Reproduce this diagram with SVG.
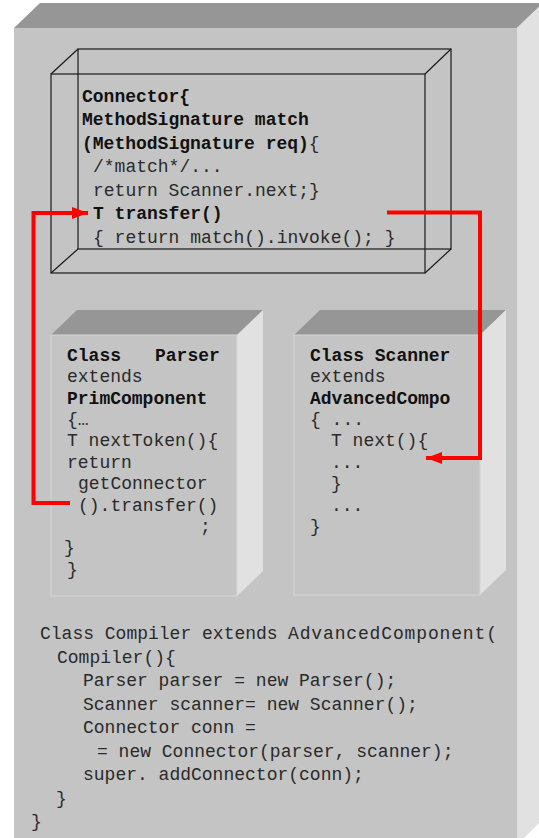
<svg xmlns="http://www.w3.org/2000/svg" width="539" height="838" viewBox="0 0 539 838">
  <defs>
    <style>
      .front { fill: #c4c4c4; }
      .top { fill: #969696; }
      .side { fill: #e1e1e1; }
      .edge { stroke: #d6d6d6; stroke-width: 1; }
      .wire { fill: none; stroke: #1a1a1a; stroke-width: 1.2; }
      .code { font-family: "Liberation Mono", "Courier New", monospace; font-size: 18px; fill: #2a2a2a; }
      .b { font-weight: bold; fill: #111; }
      .link { fill: none; stroke: #ff0000; stroke-width: 4; }
    </style>
    <marker id="head" markerWidth="4" markerHeight="3" refX="4" refY="1.5" orient="auto" markerUnits="strokeWidth">
      <polygon points="0,0 4,1.5 0,3" fill="#ff0000"/>
    </marker>
  </defs>

  <rect width="539" height="838" fill="#ffffff"/>

  <!-- outer component: Compiler -->
  <g id="compiler">
    <polygon class="top" points="14,28 40,3 543,3 517,28"/>
    <polygon class="side" points="517,28 543,3 543,819 517,845"/>
    <rect class="front" x="14" y="28" width="503" height="820"/>
    <g class="code">
      <text x="40" y="639">Class Compiler extends <tspan x="288" textLength="209" lengthAdjust="spacing">AdvancedComponent(</tspan></text>
      <text x="57" y="663">Compiler(){</text>
      <text x="83" y="686">Parser parser = new Parser();</text>
      <text x="83" y="710">Scanner scanner= new Scanner();</text>
      <text x="83" y="733">Connector conn =</text>
      <text x="97" y="757">= new Connector(parser, scanner);</text>
      <text x="83" y="780">super. addConnector(conn);</text>
      <text x="56" y="804">}</text>
      <text x="31" y="827">}</text>
    </g>
  </g>

  <!-- connector: wireframe box -->
  <g id="connector">
    <rect class="wire" x="78" y="49" width="373" height="200"/>
    <rect class="wire" x="51" y="74" width="374" height="199"/>
    <line class="wire" x1="51" y1="74" x2="78" y2="49"/>
    <line class="wire" x1="425" y1="74" x2="451" y2="49"/>
    <line class="wire" x1="51" y1="273" x2="78" y2="249"/>
    <line class="wire" x1="425" y1="273" x2="451" y2="249"/>
    <g class="code">
      <text x="82" y="102" class="b">Connector{</text>
      <text x="82" y="125" class="b">MethodSignature match</text>
      <text x="82" y="149"><tspan class="b">(MethodSignature req)</tspan>{</text>
      <text x="93" y="172">/*match*/...</text>
      <text x="93" y="196">return Scanner.next;}</text>
      <text x="93" y="219" class="b">T transfer()</text>
      <text x="93" y="243">{ return match().invoke(); }</text>
    </g>
  </g>

  <!-- Parser component -->
  <g id="parser">
    <polygon class="top" points="51,335 77,310 263,310 237,335"/>
    <polygon class="side" points="237,335 263,310 263,571 237,596"/>
    <rect class="front edge" x="51" y="335" width="186" height="261"/>
    <g class="code">
      <text x="67" y="361" class="b">Class<tspan x="155">Parser</tspan></text>
      <text x="67" y="382">extends</text>
      <text x="67" y="404" class="b">PrimComponent</text>
      <text x="67" y="425">{…</text>
      <text x="67" y="446">T nextToken(){</text>
      <text x="67" y="468">return</text>
      <text x="78" y="489">getConnector</text>
      <text x="78" y="511">().transfer()</text>
      <text x="200" y="532">;</text>
      <text x="64" y="553">}</text>
      <text x="67" y="575">}</text>
    </g>
  </g>

  <!-- Scanner component -->
  <g id="scanner">
    <polygon class="top" points="294,335 320,310 506,310 480,335"/>
    <polygon class="side" points="480,335 506,310 506,570 480,595"/>
    <rect class="front edge" x="294" y="335" width="186" height="260"/>
    <g class="code">
      <text x="310" y="361" class="b">Class Scanner</text>
      <text x="310" y="382">extends</text>
      <text x="310" y="404" class="b">AdvancedCompo</text>
      <text x="310" y="425">{ ...</text>
      <text x="331" y="446">T next(){</text>
      <text x="331" y="468">...</text>
      <text x="331" y="489">}</text>
      <text x="331" y="511">...</text>
      <text x="310" y="532">}</text>
    </g>
  </g>

  <!-- call links -->
  <g id="links">
    <path class="link" d="M70,503 H33.5 V213 H88" marker-end="url(#head)"/>
    <path class="link" d="M387,212.5 H480 V458 H426" marker-end="url(#head)"/>
  </g>
</svg>
